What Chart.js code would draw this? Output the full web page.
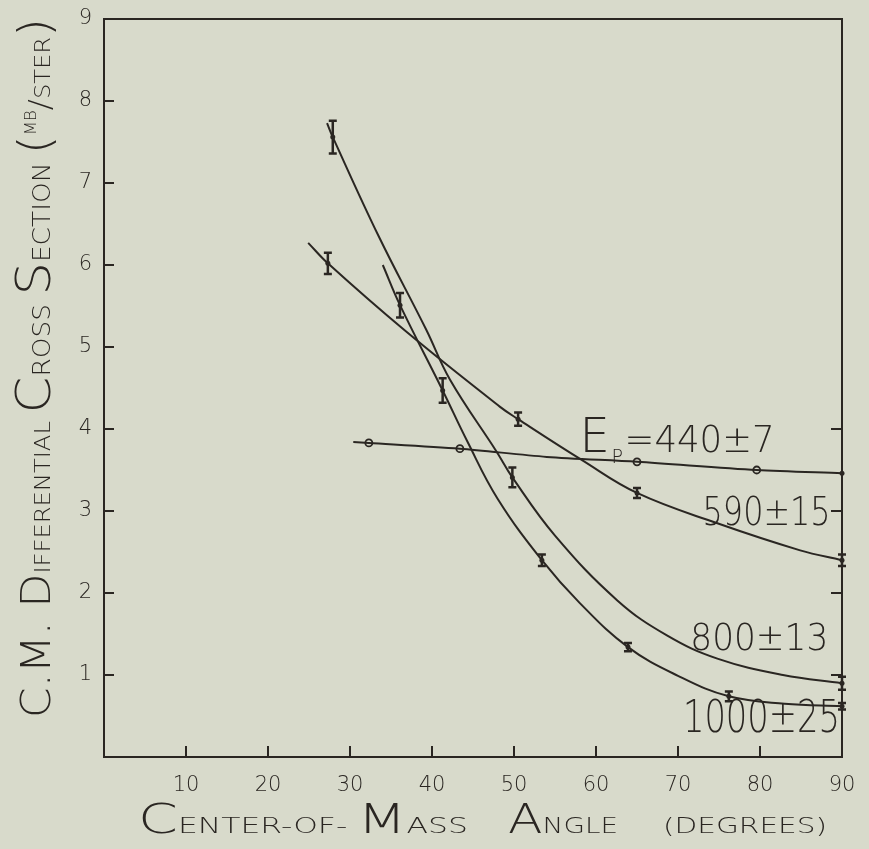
<!DOCTYPE html>
<html>
<head>
<meta charset="utf-8">
<script src="https://cdn.jsdelivr.net/npm/chart.js@4.4.1/dist/chart.umd.min.js"></script>
<style>
  html, body { margin: 0; padding: 0; background: #d8dacb; }
  #wrap { width: 869px; height: 849px; }
</style>
</head>
<body>
<div id="wrap"><canvas id="chart" width="869" height="849"></canvas></div>
<script>
// ---- data (angle in degrees, cross section in mb/ster) ----

// fitted curves
const fit440Angle = [30.4, 32.3, 43.4, 54, 65, 79.6, 90];
const fit440Value = [3.84, 3.83, 3.76, 3.66, 3.6, 3.5, 3.46];

const fit590Angle = [24.9, 27.3, 36.7, 48.3, 50.5, 58.3, 65, 74.8, 84.9, 90];
const fit590Value = [6.27, 6.02, 5.2, 4.27, 4.12, 3.62, 3.22, 2.85, 2.52, 2.4];

const fit800Angle = [27.2, 27.9, 33.5, 39.3, 42.2, 47.9, 49.8, 55, 62.6, 68.7, 74.8, 82.8, 90];
const fit800Value = [7.73, 7.56, 6.35, 5.21, 4.6, 3.72, 3.41, 2.7, 1.91, 1.48, 1.2, 1.0, 0.9];

const fit1000Angle = [34.0, 36.1, 41.3, 44.3, 48, 53.4, 58, 63.9, 70, 76.2, 83, 90];
const fit1000Value = [6.0, 5.51, 4.47, 3.85, 3.15, 2.4, 1.88, 1.34, 0.99, 0.74, 0.65, 0.62];

// measured points with error bars
const pts440Angle = [32.3, 43.4, 65, 79.6];
const pts440Value = [3.83, 3.76, 3.6, 3.5];

const pts590Angle = [27.3, 50.5, 65, 90];
const pts590Value = [6.02, 4.12, 3.22, 2.4];
const pts590Err = [0.13, 0.08, 0.06, 0.07];

const pts800Angle = [27.9, 49.8, 90];
const pts800Value = [7.56, 3.41, 0.9];
const pts800Err = [0.2, 0.12, 0.08];

const pts1000Angle = [36.1, 41.3, 53.4, 63.9, 76.2, 90];
const pts1000Value = [5.51, 4.47, 2.4, 1.34, 0.74, 0.62];
const pts1000Err = [0.15, 0.15, 0.07, 0.05, 0.06, 0.04];

const xTicks = [10, 20, 30, 40, 50, 60, 70, 80, 90];
const yTicks = [1, 2, 3, 4, 5, 6, 7, 8, 9];

const INK = '#2a2622';
const PAPER = '#d8dacb';
const FONT = '"DejaVu Sans", "Liberation Sans", sans-serif';

const toXY = (xs, ys) => xs.map((x, i) => ({ x: x, y: ys[i] }));

// drafting-style lettering: big capitals + small caps, squeezed to a width
function richWidth(ctx, segs) {
  let w = 0;
  segs.forEach(s => {
    ctx.font = `200 ${s.size}px ${FONT}`;
    w += ctx.measureText(s.t).width;
  });
  return w;
}

function drawRich(ctx, segs, x, y, width) {
  const natural = richWidth(ctx, segs);
  const sx = width ? width / natural : 1;
  ctx.save();
  ctx.translate(x, y);
  ctx.scale(sx, 1);
  let cx = 0;
  segs.forEach(s => {
    ctx.font = `200 ${s.size}px ${FONT}`;
    ctx.fillText(s.t, cx, s.dy || 0);
    cx += ctx.measureText(s.t).width;
  });
  ctx.restore();
}

const figurePlugin = {
  id: 'figure',
  beforeDraw(chart) {
    const ctx = chart.ctx;
    ctx.save();
    ctx.fillStyle = PAPER;
    ctx.fillRect(0, 0, chart.width, chart.height);
    ctx.restore();
  },
  afterDatasetsDraw(chart) {
    const ctx = chart.ctx;
    const xs = chart.scales.x, ys = chart.scales.y;
    const a = chart.chartArea;
    ctx.save();
    ctx.strokeStyle = INK;
    ctx.fillStyle = INK;

    // frame
    ctx.lineWidth = 2;
    ctx.strokeRect(a.left, a.top, a.right - a.left, a.bottom - a.top);

    // inward ticks
    ctx.beginPath();
    yTicks.slice(0, 8).forEach(v => {
      const p = ys.getPixelForValue(v);
      ctx.moveTo(a.left, p); ctx.lineTo(a.left + 10, p);
    });
    [1, 2, 3, 4].forEach(v => {
      const p = ys.getPixelForValue(v);
      ctx.moveTo(a.right, p); ctx.lineTo(a.right - 11, p);
    });
    xTicks.slice(0, 8).forEach(v => {
      const p = xs.getPixelForValue(v);
      ctx.moveTo(p, a.bottom); ctx.lineTo(p, a.bottom - 11);
    });
    ctx.stroke();

    // error bars
    const bars = [
      [pts590Angle, pts590Value, pts590Err],
      [pts800Angle, pts800Value, pts800Err],
      [pts1000Angle, pts1000Value, pts1000Err]
    ];
    ctx.lineWidth = 2.5;
    bars.forEach(([ax, vy, er]) => {
      ax.forEach((x, i) => {
        const px = xs.getPixelForValue(x);
        const top = ys.getPixelForValue(vy[i] + er[i]);
        const bot = ys.getPixelForValue(vy[i] - er[i]);
        ctx.beginPath();
        ctx.moveTo(px, top); ctx.lineTo(px, bot);
        ctx.moveTo(px - 4, top); ctx.lineTo(px + 4, top);
        ctx.moveTo(px - 4, bot); ctx.lineTo(px + 4, bot);
        ctx.stroke();
        ctx.beginPath();
        ctx.arc(px, ys.getPixelForValue(vy[i]), 2.5, 0, Math.PI * 2);
        ctx.fill();
      });
    });
    // end dot of the 440 curve
    ctx.beginPath();
    ctx.arc(xs.getPixelForValue(fit440Angle[fit440Angle.length - 1]),
      ys.getPixelForValue(fit440Value[fit440Value.length - 1]), 2.5, 0, Math.PI * 2);
    ctx.fill();

    // curve labels
    ctx.textBaseline = 'alphabetic';
    const lab = (x, y) => [xs.getPixelForValue(x), ys.getPixelForValue(y)];
    let p = lab(58, 3.72);
    drawRich(ctx, [{ t: 'E', size: 48 }], p[0], p[1]);
    drawRich(ctx, [{ t: 'P', size: 19 }], p[0] + 32, p[1] + 11);
    drawRich(ctx, [{ t: '=440±7', size: 38 }], p[0] + 45, p[1], 150);
    p = lab(73, 2.83);
    drawRich(ctx, [{ t: '590±15', size: 39 }], p[0], p[1], 128);
    p = lab(71.5, 1.3);
    drawRich(ctx, [{ t: '800±13', size: 37 }], p[0], p[1], 138);
    p = lab(70.6, 0.3);
    drawRich(ctx, [{ t: '1000±25', size: 44 }], p[0], p[1], 157);

    // axis titles
    drawRich(ctx, [
      { t: 'C', size: 40 }, { t: 'ENTER-OF- ', size: 22 },
      { t: 'M', size: 40 }, { t: 'ASS', size: 22 }
    ], 138, 833, 330);
    drawRich(ctx, [{ t: 'A', size: 40 }, { t: 'NGLE', size: 22 }], 508, 833, 110);
    drawRich(ctx, [{ t: '(DEGREES)', size: 21 }], 663, 833, 164);

    ctx.save();
    ctx.translate(50, 718);
    ctx.rotate(-Math.PI / 2);
    drawRich(ctx, [
      { t: 'C.M. ', size: 40 }, { t: 'D', size: 40 }, { t: 'IFFERENTIAL ', size: 22 },
      { t: 'C', size: 48 }, { t: 'ROSS ', size: 24 },
      { t: 'S', size: 48 }, { t: 'ECTION ', size: 24 },
      { t: '(', size: 44 }, { t: 'MB', size: 15, dy: -14 }, { t: '/', size: 30 },
      { t: 'STER', size: 22 }, { t: ')', size: 44 }
    ], 0, 0, 700);
    ctx.restore();

    ctx.restore();
  }
};

const lineStyle = { borderColor: INK, borderWidth: 2, pointRadius: 0, fill: false, tension: 0.4 };

new Chart(document.getElementById('chart'), {
  type: 'scatter',
  data: {
    datasets: [
      Object.assign({ label: '440', data: toXY(fit440Angle, fit440Value), showLine: true }, lineStyle, { tension: 0.3 }),
      Object.assign({ label: '590', data: toXY(fit590Angle, fit590Value), showLine: true }, lineStyle),
      Object.assign({ label: '800', data: toXY(fit800Angle, fit800Value), showLine: true }, lineStyle),
      Object.assign({ label: '1000', data: toXY(fit1000Angle, fit1000Value), showLine: true }, lineStyle),
      {
        label: '440 pts', data: toXY(pts440Angle, pts440Value), showLine: false,
        pointRadius: 3.5, pointBackgroundColor: PAPER, pointBorderColor: INK, pointBorderWidth: 1.8
      }
    ]
  },
  options: {
    responsive: false,
    animation: false,
    layout: { padding: { top: 19, right: 27, left: 0, bottom: 0 } },
    plugins: { legend: { display: false }, tooltip: { enabled: false } },
    scales: {
      x: {
        type: 'linear', min: 0, max: 90,
        afterFit: s => { s.height = 92; },
        afterBuildTicks: s => { s.ticks = xTicks.map(v => ({ value: v })); },
        grid: { display: false }, border: { display: false },
        ticks: { color: INK, padding: 8, font: { family: FONT, size: 21, weight: 200 } }
      },
      y: {
        type: 'linear', min: 0, max: 9,
        afterFit: s => { s.width = 104; },
        afterBuildTicks: s => { s.ticks = yTicks.map(v => ({ value: v })); },
        grid: { display: false }, border: { display: false },
        ticks: { color: INK, padding: 4, font: { family: FONT, size: 21, weight: 200 } }
      }
    }
  },
  plugins: [figurePlugin]
});
</script>
</body>
</html>
